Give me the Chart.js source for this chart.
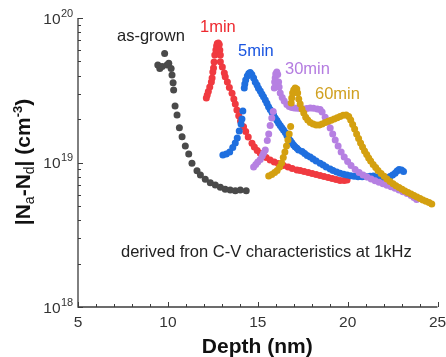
<!DOCTYPE html>
<html><head><meta charset="utf-8">
<script src="https://cdn.jsdelivr.net/npm/chart.js@4.4.1/dist/chart.umd.min.js"></script>
<style>html,body{margin:0;padding:0;background:#fff}#wrap{width:446px;height:357px;position:relative}</style>
</head><body><div id="wrap"><canvas id="c" width="446" height="357"></canvas></div>
<script>
// ---------- data ----------
const xTickValues = [5, 10, 15, 20, 25];
const yTickExponents = [18, 19, 20];
const seriesNames = ['as-grown', '1min', '5min', '30min', '60min'];

const asGrownDepth = [9.44,9.55,9.68,9.82,9.95,10.05,10.18,10.23,10.29,10.32,10.40,10.51,10.64,10.79,10.97,11.16,11.34,11.62,11.81,12.08,12.36,12.64,12.92,13.19,13.47,13.75,14.03,14.36];
const asGrownConc = [4.73e19,4.48e19,4.61e19,5.69e19,4.73e19,4.86e19,4.48e19,4.03e19,3.57e19,3.18e19,2.46e19,2.13e19,1.74e19,1.51e19,1.30e19,1.145e19,9.87e18,8.78e18,8.19e18,7.65e18,7.25e18,6.99e18,6.73e18,6.52e18,6.45e18,6.38e18,6.45e18,6.38e18];

const min1Depth = [12.14,12.19,12.25,12.33,12.42,12.46,12.50,12.54,12.57,12.61,12.67,12.71,12.75,12.81,12.86,12.89,12.92,
  12.92,13.03,13.14,13.19,13.31,13.42,13.57,13.67,13.75,13.84,13.94,14.04,14.21,14.33,14.47,14.68,14.81,14.97,15.14,15.31,15.47,15.69,15.92,16.14,16.43,16.69,16.92,17.18,17.36,17.58,17.81,18.03,18.25,18.47,18.69,18.92,19.14,19.36,19.58,19.81,19.97];
const min1Conc = [2.80e19,2.93e19,3.10e19,3.33e19,3.61e19,3.84e19,4.23e19,4.51e19,4.96e19,5.55e19,6.00e19,6.40e19,6.66e19,6.71e19,6.55e19,6.00e19,5.55e19,
  4.98e19,4.58e19,4.16e19,3.92e19,3.61e19,3.30e19,3.01e19,2.75e19,2.54e19,2.31e19,2.11e19,1.94e19,1.77e19,1.64e19,1.50e19,1.36e19,1.28e19,1.21e19,1.158e19,1.118e19,1.083e19,1.041e19,1.008e19,9.84e18,9.53e18,9.31e18,9.09e18,8.87e18,8.80e18,8.66e18,8.53e18,8.39e18,8.26e18,8.13e18,8.00e18,7.87e18,7.75e18,7.63e18,7.51e18,7.51e18,7.57e18];

const min5Depth = [13.06,13.25,13.44,13.61,13.75,13.86,13.97,14.07,14.12,14.17,14.25,14.28,14.33,14.42,14.50,14.58,14.67,
  14.77,14.86,14.96,15.04,15.14,15.23,15.32,15.42,15.51,15.60,15.69,15.79,15.88,15.97,16.07,16.16,16.25,16.34,16.43,16.53,16.62,16.71,16.81,16.90,16.99,17.08,17.18,17.27,17.47,17.61,17.75,17.92,18.08,18.25,18.47,18.64,18.81,19.03,19.19,19.39,19.58,19.78,19.97,20.17,20.36,20.58,20.81,21.07,21.25,21.43,21.64,21.83,22.03,22.19,22.36,22.50,22.64,22.75,22.86,23.00,23.11];
const min5Conc = [1.127e19,1.145e19,1.182e19,1.27e19,1.364e19,1.478e19,1.652e19,1.847e19,2.00e19,2.27e19,3.28e19,3.49e19,3.72e19,3.97e19,4.13e19,4.20e19,4.06e19,
  3.84e19,3.61e19,3.44e19,3.26e19,3.12e19,2.98e19,2.85e19,2.71e19,2.57e19,2.43e19,2.33e19,2.23e19,2.13e19,2.03e19,1.95e19,1.87e19,1.80e19,1.74e19,1.68e19,1.61e19,1.54e19,1.47e19,1.42e19,1.37e19,1.32e19,1.286e19,1.254e19,1.22e19,1.19e19,1.154e19,1.118e19,1.091e19,1.057e19,1.024e19,9.87e18,9.61e18,9.31e18,9.02e18,8.80e18,8.59e18,8.42e18,8.29e18,8.19e18,8.10e18,8.03e18,7.97e18,7.97e18,7.97e18,8.03e18,8.06e18,7.94e18,7.81e18,7.78e18,7.87e18,8.00e18,8.19e18,8.42e18,8.73e18,8.95e18,8.87e18,8.66e18];

const min30Depth = [14.77,14.89,15.00,15.14,15.25,15.33,15.42,15.53,15.61,15.69,15.78,15.86,
  15.92,15.94,15.97,16.00,16.06,16.11,16.16,16.19,16.25,16.36,16.47,16.62,16.75,16.89,17.03,17.19,17.36,17.54,17.73,17.92,18.10,18.31,18.47,18.58,18.75,18.89,19.03,19.17,19.31,19.47,19.64,19.81,20.00,20.19,20.42,20.64,20.86,21.08,21.31,21.53,21.75,21.97,22.19,22.42,22.64,22.86,23.08,23.31,23.53,23.69,23.84];
const min30Conc = [9.31e18,9.69e18,1.008e19,1.049e19,1.109e19,1.163e19,1.22e19,1.42e19,1.575e19,1.80e19,2.03e19,2.25e19,
  3.28e19,3.61e19,3.84e19,4.10e19,4.23e19,4.06e19,3.61e19,3.33e19,3.03e19,2.82e19,2.66e19,2.52e19,2.44e19,2.40e19,2.38e19,2.37e19,2.36e19,2.35e19,2.36e19,2.38e19,2.37e19,2.35e19,2.33e19,2.24e19,2.06e19,1.91e19,1.73e19,1.575e19,1.43e19,1.30e19,1.182e19,1.091e19,1.016e19,9.53e18,8.95e18,8.53e18,8.19e18,7.94e18,7.69e18,7.48e18,7.31e18,7.13e18,6.97e18,6.80e18,6.63e18,6.45e18,6.28e18,6.10e18,5.91e18,5.73e18,5.55e18];

const min60Depth = [15.61,15.78,15.94,16.08,16.22,16.33,16.42,16.51,16.60,16.68,16.75,16.83,
  16.86,16.89,16.94,17.00,17.08,17.17,17.22,17.28,17.36,17.46,17.56,17.67,17.78,17.92,18.08,18.25,18.42,18.58,18.75,18.92,19.08,19.25,19.42,19.58,19.75,19.92,20.06,20.17,20.28,20.39,20.50,20.61,20.72,20.83,20.94,21.06,21.17,21.28,21.42,21.56,21.69,21.86,22.03,22.19,22.36,22.53,22.69,22.86,23.03,23.19,23.36,23.53,23.69,23.86,24.03,24.19,24.36,24.53,24.68];
const min60Conc = [8.06e18,8.26e18,8.53e18,8.80e18,9.31e18,9.92e18,1.083e19,1.182e19,1.30e19,1.43e19,1.575e19,1.775e19,
  2.58e19,2.80e19,3.03e19,3.18e19,3.28e19,3.23e19,3.03e19,2.75e19,2.54e19,2.35e19,2.20e19,2.06e19,1.97e19,1.89e19,1.847e19,1.818e19,1.818e19,1.847e19,1.89e19,1.93e19,1.96e19,2.00e19,2.04e19,2.08e19,2.12e19,2.13e19,2.08e19,1.97e19,1.83e19,1.705e19,1.575e19,1.466e19,1.364e19,1.28e19,1.20e19,1.136e19,1.074e19,1.024e19,9.69e18,9.23e18,8.80e18,8.39e18,8.03e18,7.69e18,7.39e18,7.13e18,6.91e18,6.71e18,6.52e18,6.35e18,6.20e18,6.05e18,5.91e18,5.77e18,5.64e18,5.50e18,5.39e18,5.29e18,5.16e18];

// ---------- style ----------
const FONT = '"Liberation Sans", Arial, Helvetica, sans-serif';
const pointColors = ['#4a4a4a', '#f03a40', '#1f6fdf', '#b680e2', '#d4a010'];
const labelColors = ['#222222', '#ee2a30', '#1a55e0', '#b47ce0', '#d0a020'];
const drawOrder = [4, 3, 2, 1, 0];
const allDepth = [asGrownDepth, min1Depth, min5Depth, min30Depth, min60Depth];
const allConc = [asGrownConc, min1Conc, min5Conc, min30Conc, min60Conc];

const datasets = seriesNames.map((name, i) => ({
  label: name,
  data: allDepth[i].map((d, k) => ({ x: d, y: allConc[i][k] })),
  backgroundColor: pointColors[i],
  borderColor: pointColors[i],
  borderWidth: 0,
  pointRadius: 3.5,
  pointHoverRadius: 3.5,
  order: drawOrder[i]
}));

const axesPlugin = {
  id: 'axesPlugin',
  beforeDatasetsDraw(chart) {
    const ctx = chart.ctx, xs = chart.scales.x, ys = chart.scales.y, ca = chart.chartArea;
    ctx.save();
    ctx.strokeStyle = '#3c3c3c';
    ctx.lineWidth = 1.3;
    ctx.beginPath();
    ctx.moveTo(ca.left, ca.top);
    ctx.lineTo(ca.left, ca.bottom);
    ctx.lineTo(ca.right, ca.bottom);
    ctx.stroke();
    ctx.lineWidth = 1;
    ctx.beginPath();
    for (let v = xTickValues[0]; v <= xTickValues[xTickValues.length - 1]; v++) {
      const px = Math.round(xs.getPixelForValue(v)) + 0.5;
      const len = xTickValues.includes(v) ? 5 : 3;
      ctx.moveTo(px, ca.bottom);
      ctx.lineTo(px, ca.bottom - len);
    }
    for (let e = yTickExponents[0]; e <= yTickExponents[yTickExponents.length - 1]; e++) {
      const top = e === yTickExponents[yTickExponents.length - 1] ? 1 : 9;
      for (let m = 1; m <= top; m++) {
        const py = Math.round(ys.getPixelForValue(m * Math.pow(10, e))) + 0.5;
        const len = m === 1 ? 5 : 3;
        ctx.moveTo(ca.left, py);
        ctx.lineTo(ca.left + len, py);
      }
    }
    ctx.stroke();

    // x tick labels
    ctx.fillStyle = '#333';
    ctx.font = '15.5px ' + FONT;
    ctx.textAlign = 'center';
    ctx.textBaseline = 'alphabetic';
    xTickValues.forEach(v => ctx.fillText(String(v), xs.getPixelForValue(v), ca.bottom + 20));
    // y tick labels 10^n
    yTickExponents.forEach(e => {
      const py = ys.getPixelForValue(Math.pow(10, e));
      ctx.font = '15.5px ' + FONT;
      ctx.textAlign = 'right';
      ctx.fillText('10', ca.left - 17.5, py + 5.5);
      ctx.font = '11px ' + FONT;
      ctx.textAlign = 'left';
      ctx.fillText(String(e), ca.left - 17, py - 1.5);
    });

    // x title
    ctx.fillStyle = '#111';
    ctx.font = 'bold 21px ' + FONT;
    ctx.textAlign = 'center';
    ctx.fillText('Depth (nm)', (ca.left + ca.right) / 2 - 0.5, 353);

    // y title with sub/superscripts
    const segs = [
      { t: '|N', f: 'bold 21px ' + FONT, dy: 0 },
      { t: 'a', f: '14px ' + FONT, dy: 4 },
      { t: '-N', f: 'bold 21px ' + FONT, dy: 0 },
      { t: 'd', f: '14px ' + FONT, dy: 4 },
      { t: '| (cm', f: 'bold 21px ' + FONT, dy: 0 },
      { t: '-3', f: 'bold 13px ' + FONT, dy: -8 },
      { t: ')', f: 'bold 21px ' + FONT, dy: 0 }
    ];
    ctx.save();
    ctx.translate(22, 162);
    ctx.rotate(-Math.PI / 2);
    ctx.textAlign = 'left';
    let total = 0;
    segs.forEach(s => { ctx.font = s.f; s.w = ctx.measureText(s.t).width; total += s.w; });
    let cx = -total / 2;
    segs.forEach(s => { ctx.font = s.f; ctx.fillText(s.t, cx, 7.5 + s.dy); cx += s.w; });
    ctx.restore();
    ctx.restore();
  },
  afterDatasetsDraw(chart) {
    const ctx = chart.ctx;
    ctx.save();
    ctx.textAlign = 'left';
    ctx.textBaseline = 'alphabetic';
    ctx.font = '16.5px ' + FONT;
    const labelPos = [[117, 40.5], [200, 31.5], [238, 56], [285, 74], [315, 99]];
    seriesNames.forEach((n, i) => {
      ctx.fillStyle = labelColors[i];
      ctx.fillText(n, labelPos[i][0], labelPos[i][1]);
    });
    ctx.fillStyle = '#222';
    ctx.fillText('derived fron C-V characteristics at 1kHz', 121, 256.5);
    ctx.restore();
  }
};

new Chart(document.getElementById('c'), {
  type: 'scatter',
  data: { datasets },
  options: {
    responsive: false,
    animation: false,
    events: [],
    layout: { padding: { left: 78, right: 8.5, top: 18, bottom: 50 } },
    scales: {
      x: { type: 'linear', min: 5, max: 25, display: false },
      y: { type: 'logarithmic', min: 1e18, max: 1e20, display: false }
    },
    plugins: { legend: { display: false }, tooltip: { enabled: false } }
  },
  plugins: [axesPlugin]
});
</script></body></html>
